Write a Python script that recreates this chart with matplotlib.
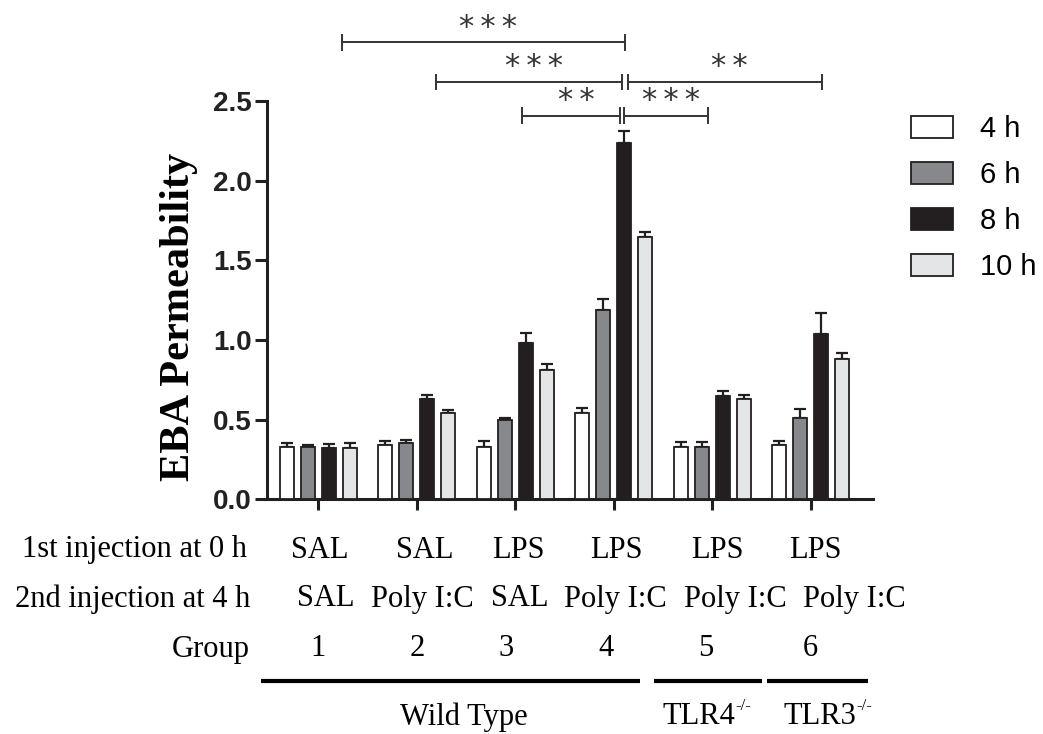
import numpy as np
import matplotlib
matplotlib.use("Agg")
import matplotlib.pyplot as plt
from matplotlib.transforms import blended_transform_factory

# datos
grupos = [1, 2, 3, 4, 5, 6]
series = ["4 h", "6 h", "8 h", "10 h"]
t4 = [0.33, 0.34, 0.33, 0.54, 0.33, 0.34]
t6 = [0.33, 0.35, 0.50, 1.19, 0.33, 0.51]
t8 = [0.32, 0.63, 0.98, 2.24, 0.65, 1.04]
t10 = [0.32, 0.54, 0.81, 1.65, 0.63, 0.88]
e4 = [0.025, 0.027, 0.035, 0.030, 0.028, 0.025]
e6 = [0.010, 0.020, 0.010, 0.070, 0.030, 0.055]
e8 = [0.025, 0.027, 0.063, 0.075, 0.030, 0.128]
e10 = [0.035, 0.022, 0.042, 0.027, 0.025, 0.038]

fila1 = ["SAL", "SAL", "LPS", "LPS", "LPS", "LPS"]
fila2 = ["SAL", "Poly I:C", "SAL", "Poly I:C", "Poly I:C", "Poly I:C"]

# comparaciones: (x inicio, x fin, altura linea, texto)
comparaciones = [
    (1.24, 4.11, 2.87, "***"),
    (2.20, 4.08, 2.62, "***"),
    (4.14, 6.11, 2.62, "**"),
    (3.07, 4.06, 2.41, "**"),
    (4.10, 4.96, 2.41, "***"),
]

valores = [t4, t6, t8, t10]
errores = [e4, e6, e8, e10]
colores = ["#ffffff", "#86888b", "#231f20", "#e3e5e7"]
negro = "#231f20"

fig = plt.figure(figsize=(10.43, 7.34), dpi=100)
ax = fig.add_axes([0.256, 0.320, 0.581, 0.542])

x = np.array(grupos, dtype=float)
ancho = 0.142
paso = 0.213
barras = []
for i in range(4):
    pos = x + (i - 1.5) * paso
    b = ax.bar(pos, valores[i], ancho, color=colores[i], edgecolor=negro,
               linewidth=1.3, label=series[i], zorder=3)
    barras.append(b)
    ax.errorbar(pos, valores[i], yerr=[np.zeros(6), errores[i]], fmt="none",
                ecolor=negro, elinewidth=1.6, capsize=4, capthick=1.6, zorder=2)

ax.set_xlim(0.48, 6.63)
ax.set_ylim(0, 2.5)
ax.set_yticks([0, 0.5, 1.0, 1.5, 2.0, 2.5])
ax.set_yticklabels(["0.0", "0.5", "1.0", "1.5", "2.0", "2.5"],
                   fontfamily="Liberation Sans", fontweight="bold", fontsize=20,
                   color="#222222")
ax.set_xticks(x)
ax.set_xticklabels([])
for s in ["top", "right"]:
    ax.spines[s].set_visible(False)
for s in ["left", "bottom"]:
    ax.spines[s].set_linewidth(2.2)
    ax.spines[s].set_color(negro)
ax.tick_params(axis="y", length=9, width=2.2, color=negro, pad=2)
ax.tick_params(axis="x", length=8, width=2.2, color=negro)

ax.set_ylabel("EBA Permeability", fontfamily="Liberation Serif",
              fontweight="bold", fontsize=30.5)
ax.yaxis.set_label_coords(-0.114, 0.457)

# lineas de significancia
cap = 0.045
for x0, x1, yy, txt in comparaciones:
    ax.plot([x0, x1], [yy, yy], color="#333333", lw=1.4, clip_on=False)
    ax.plot([x0, x0], [yy - cap, yy + cap], color="#333333", lw=1.4, clip_on=False)
    ax.plot([x1, x1], [yy - cap, yy + cap], color="#333333", lw=1.4, clip_on=False)
    ax.text((x0 + x1) / 2 + 0.05, yy + 0.005, "\u2009".join(txt),
            ha="center", va="bottom", fontsize=22, fontfamily="DejaVu Sans",
            color="#333333", clip_on=False)

# textos bajo el eje
tr = blended_transform_factory(ax.transData, fig.transFigure)
serif = "Liberation Serif"
fy = lambda py: 1 - py / 734.0
fig.text(247 / 1043, fy(550), "1st injection at 0 h", ha="right", va="center",
         fontfamily=serif, fontsize=22)
fig.text(250 / 1043, fy(599), "2nd injection at 4 h", ha="right", va="center",
         fontfamily=serif, fontsize=22)
fig.text(250 / 1043, fy(649), "Group", ha="right", va="center",
         fontfamily=serif, fontsize=22)

pos1 = [1.02, 2.085, 3.03, 4.03, 5.05, 6.05]
pos2 = [1.08, 2.06, 3.04, 4.02, 5.23, 6.44]
pos3 = [1.0, 2.0, 2.91, 3.92, 4.93, 5.99]
for i in range(6):
    ax.text(pos1[i], fy(550), fila1[i], transform=tr, ha="center", va="center",
            fontfamily=serif, fontsize=22)
    ax.text(pos2[i], fy(599), fila2[i], transform=tr, ha="center", va="center",
            fontfamily=serif, fontsize=22)
    ax.text(pos3[i], fy(649), str(grupos[i]), transform=tr, ha="center",
            va="center", fontfamily=serif, fontsize=22)

for x0, x1 in [(0.42, 4.27), (4.41, 5.50), (5.55, 6.58)]:
    ax.plot([x0, x1], [fy(681), fy(681)], transform=tr, color="black", lw=3,
            clip_on=False, solid_capstyle="butt")
ax.text(2.48, fy(717), "Wild Type", transform=tr, ha="center", va="center",
        fontfamily=serif, fontsize=22)
for xx, nombre in [(4.49, "TLR4"), (5.72, "TLR3")]:
    t = ax.text(xx, fy(717), nombre, transform=tr, ha="left", va="center",
                fontfamily=serif, fontsize=22)
    ax.annotate("-/-", xy=(1.0, 0.62), xycoords=t, ha="left", va="bottom",
                fontfamily=serif, fontsize=12)

leg = fig.legend(handles=barras, labels=series, loc="upper left",
                 bbox_to_anchor=(911 / 1043, fy(115)), frameon=False,
                 prop={"family": "Liberation Sans", "size": 21},
                 handlelength=1.45, handleheight=0.75, handletextpad=0.9,
                 labelspacing=0.62, borderpad=0, borderaxespad=0)
for h in leg.legend_handles:
    h.set_linewidth(1.3)

fig.savefig("out.png", dpi=100)
